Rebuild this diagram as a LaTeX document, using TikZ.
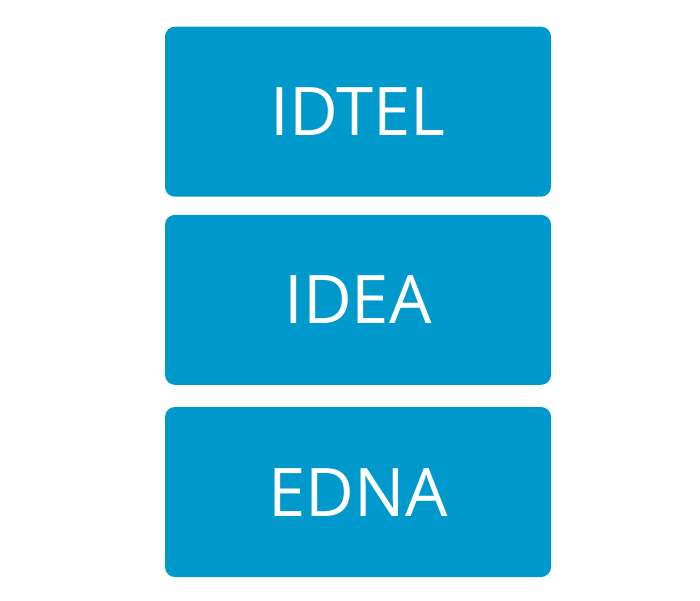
\documentclass[tikz,border=0pt]{standalone}
\usepackage{fontspec}
\setmainfont{Open Sans}
\usepackage{xcolor}
\definecolor{boxblue}{HTML}{0099CC}
\usepackage{tikz}
\tikzset{
    block/.style = {
      rounded corners=10pt,
      fill=boxblue,
      text=white,
      minimum width=386pt,
      minimum height=170pt,
      inner sep=0pt,
      font=\fontsize{67}{78}\selectfont
    }
}
\begin{document}
\begin{tikzpicture}[x=1pt,y=1pt]
      \useasboundingbox (0,0) rectangle (700,-600);
      \node[block] (T) at (358, -111.7) {IDTEL};
      \node[block] (I) at (358, -299.8) {IDEA};
      \node[block] (E) at (358, -492)   {EDNA};
\end{tikzpicture}
\end{document}
